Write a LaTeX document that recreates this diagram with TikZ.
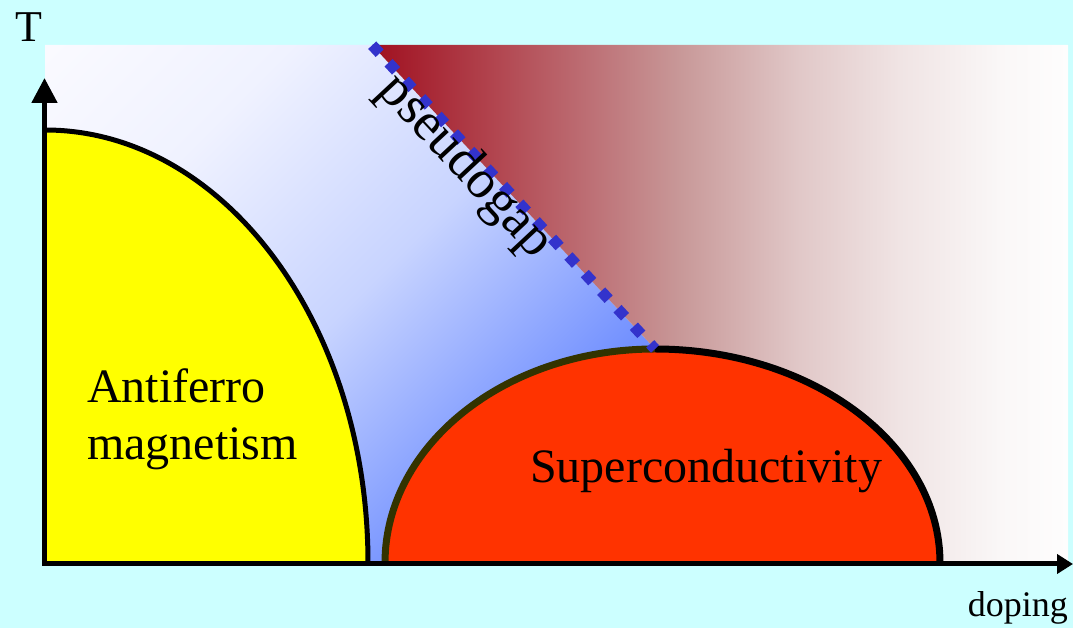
\documentclass[tikz,border=0pt]{standalone}
\usepackage{fontspec}
\setmainfont{Liberation Serif}
\usetikzlibrary{arrows.meta}
\definecolor{bgcyan}{RGB}{204,255,255}
\definecolor{scred}{RGB}{255,51,0}
\definecolor{afyellow}{RGB}{255,255,0}
\definecolor{scolive}{RGB}{51,51,0}
\definecolor{pgblue}{RGB}{51,51,204}
\pgfdeclarehorizontalshading{redgrad}{100bp}{%
  rgb(0bp)=(0.627,0.063,0.125);
  rgb(25bp)=(0.627,0.063,0.125);
  rgb(34bp)=(0.698,0.275,0.314);
  rgb(41.2bp)=(0.745,0.451,0.471);
  rgb(47.1bp)=(0.784,0.596,0.596);
  rgb(55.7bp)=(0.882,0.784,0.784);
  rgb(62.9bp)=(0.941,0.894,0.894);
  rgb(70.1bp)=(0.980,0.969,0.969);
  rgb(75bp)=(0.996,0.992,0.992);
  rgb(100bp)=(0.996,0.992,0.992)}
\pgfdeclareverticalshading{bluegrad}{100bp}{%
  rgb(0bp)=(0.373,0.510,1);
  rgb(15bp)=(0.392,0.529,1);
  rgb(30bp)=(0.451,0.569,1);
  rgb(50bp)=(0.784,0.831,1);
  rgb(70bp)=(0.941,0.949,1);
  rgb(85bp)=(0.980,0.980,1);
  rgb(100bp)=(1,1,1)}
\tikzset{
  domeline/.style={line width=5pt, black},
  scline/.style={line width=7pt},
  pgline/.style={pgblue, line width=11pt, dash pattern=on 11pt off 13pt, dash phase=23.7pt},
  axisline/.style={line width=5pt, black, line join=miter},
  biglabel/.style={font=\fontsize{48}{57}\selectfont, inner sep=0pt},
}
\begin{document}
\begin{tikzpicture}[x=1pt,y=1pt]
\useasboundingbox (0,0) rectangle (1073,628);
\fill[bgcyan] (0,0) rectangle (1073,628);
% coordinates
\coordinate (pgA) at (372,583);
\coordinate (pgB) at (655,279);
\coordinate (origin) at (44.5,64);
\coordinate (Ytip) at (44.5,550);
\coordinate (Xtip) at (1073,64);
% blue region
\shade[shading=bluegrad, shading angle=45]
  (45,583) -- (pgA) -- (pgB) -- (655,65) -- (45,65) -- cycle;
% red region
\shade[shading=redgrad]
  (pgA) -- (1068,583) -- (1068,65) -- (655,65) -- (pgB) -- cycle;
% antiferromagnetism dome
\fill[afyellow] (45,65) -- (45,498) arc[start angle=90, end angle=0, x radius=323, y radius=433] -- cycle;
\draw[domeline] (45,498) arc[start angle=90, end angle=0, x radius=323, y radius=433];
% superconducting dome
\fill[scred] (385,65) arc[start angle=180, end angle=90, x radius=270, y radius=214]
  arc[start angle=90, end angle=0, x radius=285, y radius=214] -- cycle;
\draw[scline, scolive] (385,65) arc[start angle=180, end angle=90, x radius=270, y radius=214];
\draw[scline, black] (655,279) arc[start angle=90, end angle=0, x radius=285, y radius=214];
% pseudogap line
\draw[pgline] (pgA) -- (pgB);
% labels
\node[font=\fontsize{54}{60}\selectfont, inner sep=0pt, rotate=-47] (pglabel) at (465,461) {pseudogap};
\node[biglabel, anchor=base west, align=left] (aflabel) at (87,168) {Antiferro\\magnetism};
\node[biglabel, anchor=base west] (sclabel) at (530,145) {Superconductivity};
\node[font=\fontsize{44}{50}\selectfont, inner sep=0pt] (Tlabel) at (29,601) {T};
\node[font=\fontsize{36}{42}\selectfont, inner sep=0pt, anchor=base east] (dopinglabel) at (1068,11) {doping};
% axes
\draw[axisline, {Triangle[length=25pt,width=25pt]}-{Triangle[length=16pt,width=19pt]}] (Ytip) -- (origin) -- (Xtip);
\end{tikzpicture}
\end{document}
